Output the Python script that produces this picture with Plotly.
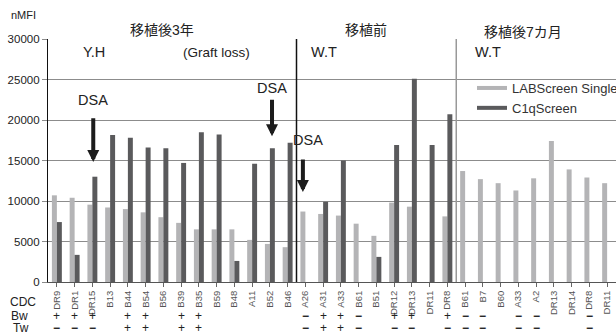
import plotly.graph_objects as go

# ---------------- data ----------------
categories = ["DR9", "DR1", "DR15", "B13", "B44", "B54", "B56", "B39", "B35", "B59", "B48", "A11", "B52", "B46",
              "A26", "A31", "A33", "B61", "B51", "DR12", "DR13", "DR11", "DR8",
              "B61", "B7", "B60", "A33", "A2", "DR13", "DR14", "DR8", "DR11"]
labscreen = [10700, 10400, 9550, 9200, 9000, 8600, 8000, 7300, 6500, 6500, 6500, 5200, 4700, 4300,
             8700, 8400, 8200, 7200, 5700, 9800, 9300, None, 8100,
             13700, 12700, 12200, 11300, 12800, 17400, 13900, 12900, 12200]
c1qscreen = [7400, 3350, 13000, 18150, 17800, 16600, 16500, 14700, 18500, 18200, 2600, 14600, 16500, 17200,
             None, 9900, 15000, None, 3100, 16900, 25100, 16900, 20700,
             None, None, None, None, None, None, None, None, None]
bw = ["+", "+", "+", "", "+", "+", "", "+", "+", "", "", "", "", "",
      "-", "+", "+", "-", "", "+", "+", "", "+",
      "-", "-", "", "-", "-", "", "", "-", ""]
tw = ["-", "-", "-", "", "+", "+", "", "+", "+", "", "", "", "", "",
      "-", "+", "+", "-", "", "-", "-", "", "-",
      "-", "-", "", "-", "-", "", "", "-", ""]
sections = ["移植後3年", "移植前", "移植後7カ月"]
section_sizes = [14, 9, 9]
patients = ["Y.H", "W.T", "W.T"]
series_names = ["LABScreen Single", "C1qScreen"]
y_ticks = [0, 5000, 10000, 15000, 20000, 25000, 30000]
# DSA arrows: (category index, arrow tip value, arrow tail value)
dsa_arrows = [(2.05, 14800, 20400), (12.12, 18000, 22700), (13.86, 11100, 15300)]
dsa_labels = [(2.05, 22450), (12.12, 23950), (14.15, 17500)]

# ---------------- style ----------------
LIGHT = "#b4b4b6"
DARK = "#5a5a5c"
FONT = "Liberation Sans, Arial, Noto Sans CJK JP, sans-serif"
W, H = 616, 335
L, R, T, B = 48, 0, 39, 53
PW = W - L - R
PH = H - T - B

def px_to_paper_x(px):
    return (px - L) / PW

def px_to_paper_y(py):
    return (H - B - py) / PH

xs = list(range(len(categories)))

fig = go.Figure()
fig.add_trace(go.Bar(x=xs, y=labscreen, name=series_names[0], marker_color=LIGHT,
                     marker_line_width=0, showlegend=False))
fig.add_trace(go.Bar(x=xs, y=c1qscreen, name=series_names[1], marker_color=DARK,
                     marker_line_width=0, showlegend=False))
# legend entries as line samples
fig.add_trace(go.Scatter(x=[None], y=[None], mode="lines", name=series_names[0],
                         line=dict(color=LIGHT, width=4)))
fig.add_trace(go.Scatter(x=[None], y=[None], mode="lines", name=series_names[1],
                         line=dict(color=DARK, width=4)))

annotations = []
shapes = []

# section dividers
b1 = section_sizes[0] - 0.5
b2 = section_sizes[0] + section_sizes[1] - 0.5
shapes.append(dict(type="line", xref="x", yref="y", x0=b1, x1=b1, y0=0, y1=30000,
                   line=dict(color="#111111", width=1.5)))
shapes.append(dict(type="line", xref="x", yref="y", x0=b2, x1=b2, y0=0, y1=30000,
                   line=dict(color="#999999", width=1.5)))

# section titles
title_px = [162, 366, 523]
title_py = [30, 30, 32]
for s, xp, yp in zip(sections, title_px, title_py):
    annotations.append(dict(text=s, xref="paper", yref="paper", x=px_to_paper_x(xp), y=px_to_paper_y(yp),
                            showarrow=False, xanchor="center", yanchor="middle",
                            font=dict(size=14, color="#222222", family=FONT)))

# patient labels
pat_px = [94, 324, 488]
for p, xp in zip(patients, pat_px):
    annotations.append(dict(text=p, xref="paper", yref="paper", x=px_to_paper_x(xp), y=px_to_paper_y(52),
                            showarrow=False, xanchor="center", yanchor="middle",
                            font=dict(size=14.5, color="#222222", family=FONT)))
annotations.append(dict(text="(Graft loss)", xref="paper", yref="paper", x=px_to_paper_x(216),
                        y=px_to_paper_y(53), showarrow=False, xanchor="center", yanchor="middle",
                        font=dict(size=13.5, color="#222222", family=FONT)))

# DSA arrows and labels
for xi, tip, tail in dsa_arrows:
    annotations.append(dict(text="", x=xi, y=tip, ax=xi, ay=tail, xref="x", yref="y",
                            axref="x", ayref="y", showarrow=True, arrowhead=2,
                            arrowwidth=4, arrowsize=0.6, arrowcolor="#1c1c1c", standoff=0))
for xi, yv in dsa_labels:
    annotations.append(dict(text="DSA", x=xi, y=yv, xref="x", yref="y", showarrow=False,
                            xanchor="center", yanchor="middle",
                            font=dict(size=14.5, color="#222222", family=FONT)))

# nMFI label
annotations.append(dict(text="nMFI", xref="paper", yref="paper", x=px_to_paper_x(23), y=px_to_paper_y(15),
                        showarrow=False, xanchor="center", yanchor="middle",
                        font=dict(size=11, color="#222222", family=FONT)))

# row labels
ROW_Y = {"CDC": 302, "Bw": 316, "Tw": 328}
for txt, xp in [("CDC", 23), ("Bw", 19), ("Tw", 21)]:
    annotations.append(dict(text=txt, xref="paper", yref="paper", x=px_to_paper_x(xp),
                            y=px_to_paper_y(ROW_Y[txt]), borderpad=0,
                            showarrow=False, xanchor="center", yanchor="middle",
                            font=dict(size=12, color="#222222", family=FONT)))

# Bw / Tw symbols
for row, yp in [(bw, ROW_Y["Bw"]), (tw, ROW_Y["Tw"])]:
    for i, sym in enumerate(row):
        if not sym:
            continue
        txt = "+" if sym == "+" else "<b>\u2212</b>"
        annotations.append(dict(text=txt, x=i, xref="x", yref="paper", y=px_to_paper_y(yp),
                                borderpad=0,
                                showarrow=False, xanchor="center", yanchor="middle",
                                font=dict(size=12, color="#222222", family=FONT)))

fig.update_layout(
    width=W, height=H,
    margin=dict(l=L, r=R, t=T, b=B, pad=0, autoexpand=False),
    plot_bgcolor="white", paper_bgcolor="white",
    barmode="group", bargap=0.44, bargroupgap=0,
    font=dict(family=FONT, color="#222222"),
    showlegend=True,
    legend=dict(x=px_to_paper_x(472), y=px_to_paper_y(73), xanchor="left", yanchor="top",
                bgcolor="rgba(0,0,0,0)", font=dict(size=13, color="#333333", family=FONT),
                itemwidth=30, tracegroupgap=0),
    annotations=annotations,
    shapes=shapes,
)
fig.update_xaxes(range=[-0.5, len(categories) - 0.5], tickmode="array", tickvals=xs,
                 ticktext=categories, tickangle=-90, tickfont=dict(size=9.5, color="#555555", family=FONT),
                 showgrid=False, showline=True, linecolor="#555555", linewidth=1,
                 ticks="outside", ticklen=4, tickcolor="#666666", zeroline=False, automargin=False)
fig.update_yaxes(range=[0, 30000], tickmode="array", tickvals=y_ticks,
                 ticktext=[str(v) for v in y_ticks],
                 tickfont=dict(size=11.5, color="#222222", family=FONT),
                 showgrid=True, gridcolor="#8c8c8c", gridwidth=1,
                 showline=True, linecolor="#111111", linewidth=1.2,
                 ticks="outside", ticklen=5, tickcolor="#8c8c8c", zeroline=False, automargin=False)

fig.write_html("out.html", config={"displayModeBar": False},
               post_script="document.body.style.margin='0';document.body.style.padding='0';")
